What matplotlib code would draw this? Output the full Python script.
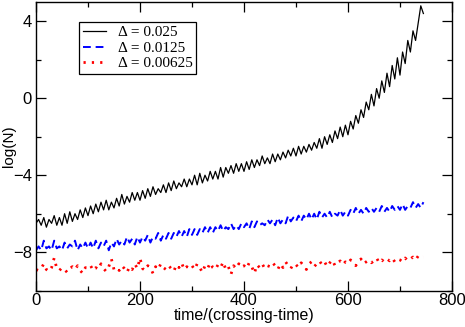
import numpy as np
import matplotlib
matplotlib.use("Agg")
import matplotlib.pyplot as plt
from matplotlib.ticker import MultipleLocator

# time axis, sampled every 5 crossing-times
t = np.arange(0, 750, 5)

# Delta = 0.025
logN_a = [
    -6.5, -6.3, -6.6, -6.2, -6.7, -6.3, -6.5, -6.1, -6.6, -6.2,
    -6.6, -6.0, -6.5, -5.9, -6.4, -6.0, -6.3, -5.8, -6.2, -5.7,
    -6.1, -5.6, -6.0, -5.5, -5.9, -5.4, -5.8, -5.3, -5.8, -5.4,
    -5.7, -5.2, -5.6, -5.0, -5.5, -5.1, -5.4, -4.9, -5.3, -4.9,
    -5.3, -4.8, -5.2, -4.7, -5.1, -4.6, -5.0, -4.7, -4.9, -4.5,
    -4.9, -4.4, -4.8, -4.3, -4.7, -4.4, -4.6, -4.2, -4.6, -4.2,
    -4.5, -4.0, -4.5, -3.9, -4.4, -4.0, -4.3, -3.8, -4.2, -3.8,
    -4.2, -3.6, -4.1, -3.6, -3.9, -3.5, -3.9, -3.4, -3.8, -3.4,
    -3.8, -3.3, -3.7, -3.2, -3.6, -3.2, -3.5, -3.0, -3.4, -3.1,
    -3.4, -2.9, -3.3, -2.9, -3.2, -2.8, -3.1, -2.7, -3.0, -2.6,
    -3.0, -2.5, -2.9, -2.5, -2.8, -2.4, -2.7, -2.3, -2.6, -2.1,
    -2.6, -2.0, -2.4, -1.9, -2.3, -1.7, -2.1, -1.5, -2.0, -1.4,
    -1.9, -1.2, -1.6, -0.9, -1.3, -0.6, -1.0, -0.2, -0.6, 0.2,
    -0.4, 0.5, 0.0, 0.9, 0.3, 1.3, 0.6, 1.7, 1.0, 2.1,
    1.2, 2.4, 1.8, 3.0, 2.4, 3.5, 3.0, 3.9, 4.8, 4.4,
]

# Delta = 0.0125
logN_b = [
    -7.9, -7.7, -7.9, -7.4, -7.8, -7.7, -7.9, -7.4, -7.8, -7.7,
    -7.9, -7.5, -7.8, -7.6, -7.7, -7.4, -7.9, -7.6, -7.8, -7.5,
    -7.8, -7.5, -7.8, -7.4, -7.8, -7.5, -7.7, -7.4, -7.9, -7.5,
    -7.7, -7.3, -7.6, -7.4, -7.6, -7.2, -7.5, -7.3, -7.6, -7.2,
    -7.5, -7.2, -7.4, -7.1, -7.5, -7.2, -7.3, -7.0, -7.4, -7.1,
    -7.3, -7.0, -7.3, -7.0, -7.2, -6.9, -7.2, -6.9, -7.2, -6.8,
    -7.1, -6.8, -7.1, -6.8, -7.0, -6.7, -7.0, -6.7, -7.0, -6.7,
    -6.9, -6.6, -6.9, -6.7, -6.8, -6.5, -6.8, -6.6, -6.8, -6.5,
    -6.7, -6.5, -6.8, -6.4, -6.7, -6.4, -6.6, -6.5, -6.6, -6.3,
    -6.5, -6.3, -6.6, -6.2, -6.5, -6.3, -6.5, -6.1, -6.4, -6.2,
    -6.4, -6.1, -6.4, -6.1, -6.3, -6.0, -6.3, -6.0, -6.3, -5.9,
    -6.2, -6.0, -6.2, -5.9, -6.2, -6.0, -6.1, -5.8, -6.1, -5.9,
    -6.1, -5.8, -6.0, -5.7, -6.0, -5.8, -6.0, -5.7, -5.9, -5.7,
    -5.9, -5.7, -5.9, -5.6, -5.9, -5.7, -5.9, -5.6, -5.8, -5.6,
    -5.8, -5.5, -5.8, -5.6, -5.7, -5.4, -5.7, -5.5, -5.7, -5.4,
]

# Delta = 0.00625
logN_c = [
    -8.9, -8.95, -8.85, -8.6, -8.9, -9.0, -8.8, -8.3, -8.85, -8.95,
    -8.8, -8.9, -9.05, -8.85, -8.75, -8.9, -8.7, -8.95, -9.1, -8.8,
    -8.85, -8.7, -8.95, -8.8, -8.9, -8.6, -8.85, -9.0, -8.75, -8.35,
    -8.9, -8.8, -8.95, -8.7, -8.85, -9.05, -8.75, -8.9, -8.6, -8.85,
    -8.3, -8.85, -8.95, -8.7, -8.8, -9.1, -8.75, -8.9, -8.6, -8.8,
    -8.9, -8.7, -8.85, -9.0, -8.65, -8.8, -8.55, -8.9, -8.75, -8.85,
    -8.7, -8.9, -8.6, -8.8, -9.05, -8.7, -8.85, -8.55, -8.8, -8.9,
    -8.65, -8.8, -8.5, -8.9, -8.75, -9.15, -8.7, -8.85, -8.6, -8.8,
    -8.7, -8.85, -8.55, -8.75, -9.1, -8.65, -8.8, -8.6, -8.85, -8.7,
    -8.75, -8.55, -8.7, -8.9, -8.6, -8.8, -8.5, -8.7, -8.85, -8.6,
    -8.65, -8.8, -8.55, -8.7, -8.9, -8.6, -8.5, -8.75, -8.6, -8.45,
    -8.65, -8.5, -8.75, -8.55, -8.4, -8.7, -8.55, -8.45, -8.65, -8.5,
    -8.6, -8.4, -8.55, -8.7, -8.45, -8.35, -8.6, -8.5, -8.4, -8.55,
    -8.45, -8.3, -8.55, -8.4, -8.5, -8.35, -8.45, -8.3, -8.5, -8.35,
    -8.4, -8.5, -8.3, -8.45, -8.35, -8.25, -8.4, -8.2, -8.3, -8.25,
]

labels = ["Δ = 0.025", "Δ = 0.0125", "Δ = 0.00625"]

plt.rcParams['font.family'] = ['Liberation Sans', 'DejaVu Sans']

fig = plt.figure(figsize=(4.65, 3.27), dpi=100)
ax = fig.add_axes([0.0774, 0.111, 0.8946, 0.883])

ax.plot(t, logN_a, color='black', lw=0.9, label=labels[0])
ax.plot(t, logN_b, color='blue', lw=1.4, linestyle=(0, (4, 2.5)), label=labels[1])
ax.plot(t, logN_c, color='red', lw=2.0, linestyle=(0, (0.8, 2.2)), label=labels[2])

ax.set_xlim(0, 800)
ax.set_ylim(-10, 5)
ax.xaxis.set_major_locator(MultipleLocator(200))
ax.xaxis.set_minor_locator(MultipleLocator(100))
ax.yaxis.set_major_locator(MultipleLocator(4))
ax.yaxis.set_minor_locator(MultipleLocator(2))
ax.set_yticks([-8, -4, 0, 4])
ax.tick_params(which='both', direction='in', top=True, right=True, labelsize=12, width=0.9)
ax.tick_params(which='major', length=7)
ax.tick_params(which='minor', length=3.5)
ax.tick_params(axis='x', pad=2)
ax.tick_params(axis='y', pad=3)
for s in ax.spines.values():
    s.set_linewidth(1.0)

ax.set_xlabel("time/(crossing-time)", fontsize=11.5, labelpad=0)
ax.set_ylabel("log(N)", fontsize=11)
ax.yaxis.set_label_coords(-0.048, 0.5)

leg = ax.legend(loc='upper left', bbox_to_anchor=(0.103, 0.931), borderaxespad=0,
                fancybox=False, framealpha=1, edgecolor='black',
                prop={'family': 'Liberation Serif', 'size': 11},
                handlelength=1.5, handletextpad=0.8, labelspacing=0.12,
                borderpad=0.25)
leg.get_frame().set_linewidth(0.9)

fig.savefig("out.png", dpi=100)
